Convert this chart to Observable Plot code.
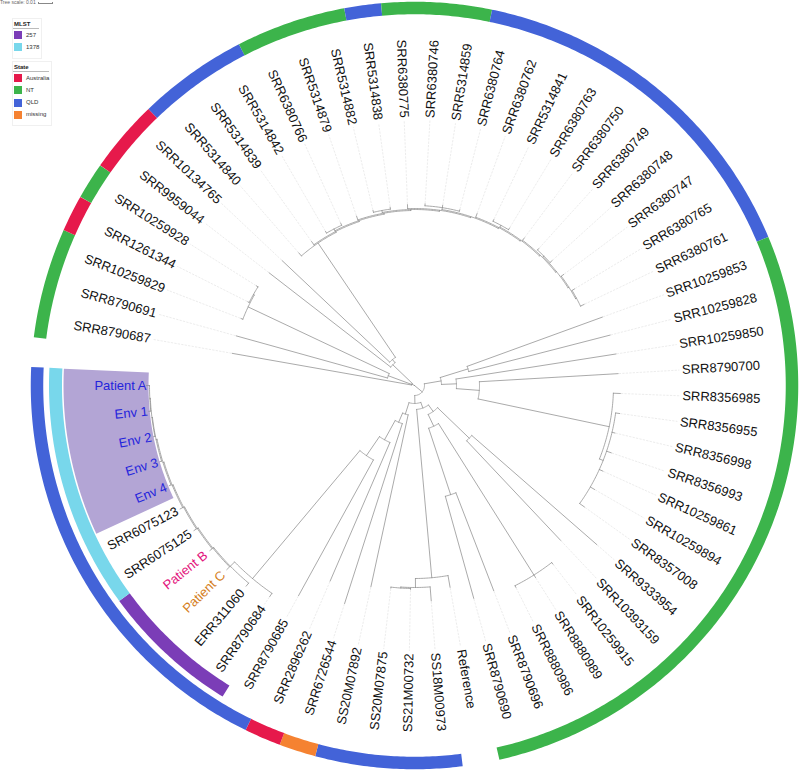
<!DOCTYPE html>
<html><head><meta charset="utf-8">
<script src="https://cdn.jsdelivr.net/npm/d3@7"></script>
<script src="https://cdn.jsdelivr.net/npm/@observablehq/plot@0.6"></script>
<style>
body{margin:0;background:#fff;font-family:"Liberation Sans",Arial,sans-serif;}
#wrap{position:relative;width:800px;height:770px;overflow:hidden;}
#chart svg{display:block;}
#legend{position:absolute;left:0;top:0;width:80px;height:130px;font-family:"Liberation Sans",Arial,sans-serif;color:#222;}
.lg{position:absolute;white-space:nowrap;}
</style></head>
<body><div id="wrap"><div id="chart"></div><div id="legend"></div></div>
<script>
// ---------------- DATA ----------------
// Tree; numbers after ':' are root-to-node distances in tree units
// (the 0.01 scale bar spans 15 units).
const topClade = "(SRR5314840:176,(SRR5314839:177,((SRR5314842:178,SRR6380766:178.5):176,(SRR5314879:179,((SRR5314882:180,SRR5314838:180):178,(SRR6380775:181,((SRR6380746:182,SRR5314859:182.5,SRR6380764:181.5):180,(SRR6380762:183,((SRR5314841:184,SRR6380763:184):182,(SRR6380750:184,((SRR6380749:185,SRR6380748:186):183,(SRR6380747:186,(SRR6380765:187,SRR6380761:188):184):183):182):181):180):179):178):177):176):175):174):173):172";
const upperLeftClade = "(SRR8790687:185,(SRR8790691:185,(SRR10259829:186,(SRR1261344:186.5,SRR10259928:187):185):184):28,(SRR9959044:184,(SRR10134765:182," + topClade + "):34):30):3";
const rightClade = "((SRR10259853:200,SRR10259828:202):56,(SRR10259850:204,(SRR8790700:204,(SRR8356985:206,(SRR8356955:207,SRR8356998:206,SRR8356993:208,SRR10259861:207,SRR10259894:208,SRR8357008:209):203):199):65):42):27";
const lowerRightClade = "(((SRR9333954:242,SRR10393159:213):76,((SRR10259915:226,SRR8880989:227,SRR8880986:226):224,(SRR8790696:220,SRR8790690:221):115):45):32,(Reference:205,(SS18M00973:216,(SS21M00732:204,SS20M07875:204):203):202):193):24";
const lowerLeftClade = "(SS20M07892:206,(SRR6726544:229,(SRR2896262:213,(SRR8790685:240,(SRR8790684:256,(ERR311060:262,(Patient C:263,(Patient B:263,(SRR6075125:264,(SRR6075123:265,(Env 4:265,(Env 3:266,(Env 2:266,(Env 1:267,Patient A:268):265):264.5):264):263):262):261):260):259):258):252):85):62):40):30";
const treeNewick = "(" + upperLeftClade + ",(" + rightClade + ",(" + lowerRightClade + "," + lowerLeftClade + "):18):10):0;";

const treeScaleLabel = "Tree scale: 0.01";
const treeScaleUnits = 15;

const stateNames = ["Australia", "NT", "QLD", "missing"];
const stateColors = ["#e6194b", "#3cb44b", "#4363d8", "#f58231"];
const stateAustralia = ["SRR1261344", "SRR9959044", "SRR10134765", "SRR2896262"];
const stateNT = ["SRR8790687", "SRR8790691", "SRR10259829", "SRR10259928", "SRR6380766", "SRR5314879", "SRR5314882", "SRR6380775", "SRR6380746", "SRR5314859",
  "SRR10259853", "SRR10259828", "SRR10259850", "SRR8790700", "SRR8356985", "SRR8356955", "SRR8356998", "SRR8356993", "SRR10259861", "SRR10259894",
  "SRR8357008", "SRR9333954", "SRR10393159", "SRR10259915", "SRR8880989", "SRR8880986", "SRR8790696", "SRR8790690"];
const stateQLD = ["SRR5314840", "SRR5314839", "SRR5314842", "SRR5314838", "SRR6380764", "SRR6380762", "SRR5314841", "SRR6380763", "SRR6380750", "SRR6380749",
  "SRR6380748", "SRR6380747", "SRR6380765", "SRR6380761", "SS18M00973", "SS21M00732", "SS20M07875", "SS20M07892", "SRR8790685", "SRR8790684",
  "ERR311060", "Patient C", "Patient B", "SRR6075125", "SRR6075123", "Env 4", "Env 3", "Env 2", "Env 1", "Patient A"];
const stateMissing = ["SRR6726544"];

const mlstNames = ["257", "1378"];
const mlstColors = ["#7b3db7", "#78d7eb"];
const mlst257 = ["SRR8790684", "ERR311060", "Patient C", "Patient B"];
const mlst1378 = ["SRR6075125", "SRR6075123", "Env 4", "Env 3", "Env 2", "Env 1", "Patient A"];

const highlightBlue = ["Patient A", "Env 1", "Env 2", "Env 3", "Env 4"];
const highlightPink = ["Patient B"];
const highlightOrange = ["Patient C"];
const shadedLeaves = ["Env 4", "Env 3", "Env 2", "Env 1", "Patient A"];

// ---------------- LAYOUT ----------------
const startAngle = 190, arcSpan = 350;
const labelR = 268, wedgeR0 = 266, wedgeR1 = 351, mlstR = 359, mlstW = 13, stateR = 377.5, stateW = 12.5;

function parseNewick(s) {
  let i = 0;
  function node() {
    const n = {children: []};
    if (s[i] === "(") {
      i++;
      n.children.push(node());
      while (s[i] === ",") { i++; n.children.push(node()); }
      i++;
    }
    let name = "";
    while (i < s.length && !",():;".includes(s[i])) name += s[i++];
    n.name = name.trim();
    if (s[i] === ":") {
      i++; let num = "";
      while (i < s.length && !",();".includes(s[i])) num += s[i++];
      n.depth = +num;
    }
    return n;
  }
  return node();
}
const root = parseNewick(treeNewick);
const leaves = [];
(function walk(n) { if (!n.children.length) leaves.push(n); else n.children.forEach(walk); })(root);
const step = arcSpan / (leaves.length - 1);
leaves.forEach((l, k) => l.angle = startAngle + k * step);
(function setAngle(n) {
  if (n.children.length) {
    n.children.forEach(setAngle);
    n.angle = (n.children[0].angle + n.children[n.children.length - 1].angle) / 2;
  }
})(root);

const rad = Math.PI / 180;
const polar = (r, a) => ({x: r * Math.cos(a * rad), y: r * Math.sin(a * rad)});
function arcPts(r, a0, a1, id, extra) {
  const n = Math.max(2, Math.ceil(Math.abs(a1 - a0) / 0.5) + 1);
  return d3.range(n).map(i => Object.assign({id}, polar(r, a0 + (a1 - a0) * i / (n - 1)), extra || {}));
}

// branches
const branchPts = [];
let bid = 0;
(function walkB(n, parent) {
  if (parent) {
    const id = "b" + (bid++);
    branchPts.push(Object.assign({id}, polar(parent.depth, n.angle)), Object.assign({id}, polar(n.depth, n.angle)));
  }
  if (n.children.length) {
    const c = n.children;
    branchPts.push(...arcPts(n.depth, c[0].angle, c[c.length - 1].angle, "a" + (bid++)));
    c.forEach(ch => walkB(ch, n));
  }
})(root, null);

// leaders
const leaderPts = [];
leaves.forEach((l, k) => {
  if (labelR - 3 - (l.depth + 1) > 2) {
    leaderPts.push(Object.assign({id: "l" + k}, polar(l.depth + 1, l.angle)), Object.assign({id: "l" + k}, polar(labelR - 3, l.angle)));
  }
});

// rings
const stateLists = [stateAustralia, stateNT, stateQLD, stateMissing];
const stateColorOf = new Map();
stateLists.forEach((lst, i) => lst.forEach(nm => stateColorOf.set(nm, stateColors[i])));
const mlstColorOf = new Map();
[mlst257, mlst1378].forEach((lst, i) => lst.forEach(nm => mlstColorOf.set(nm, mlstColors[i])));

function ringRuns(colorOf, r, prefix) {
  const pts = [];
  let run = null, rid = 0;
  const flush = () => { if (run) pts.push(...arcPts(r, run.a0, run.a1, prefix + (rid++), {color: run.color})); run = null; };
  leaves.forEach(l => {
    const c = colorOf.get(l.name);
    if (!c) { flush(); return; }
    if (run && run.color === c) run.a1 = l.angle + step / 2;
    else { flush(); run = {color: c, a0: l.angle - step / 2, a1: l.angle + step / 2}; }
  });
  flush();
  return pts;
}
const statePts = ringRuns(stateColorOf, stateR, "s");
const mlstPts = ringRuns(mlstColorOf, mlstR, "m");

// shaded wedge
const shaded = leaves.filter(l => shadedLeaves.includes(l.name));
const wA0 = d3.min(shaded, l => l.angle) - step / 2, wA1 = d3.max(shaded, l => l.angle) + step / 2;
const wedgePts = arcPts((wedgeR0 + wedgeR1) / 2, wA0, wA1, "w");

// labels
function labelColor(nm) {
  if (highlightBlue.includes(nm)) return "#2424dc";
  if (highlightPink.includes(nm)) return "#e3167e";
  if (highlightOrange.includes(nm)) return "#d47e1c";
  return "#111111";
}
const labels = leaves.map(l => {
  const a = ((l.angle % 360) + 360) % 360;
  const right = a >= 270 || a < 90;
  return Object.assign({name: l.name, right, rot: right ? a : a - 180, color: labelColor(l.name)}, polar(labelR, l.angle));
});

const cx = 414, cy = 385, W = 800, H = 770;
const font = "Liberation Sans, Arial, sans-serif";
const chart = Plot.plot({
  width: W, height: H, margin: 0,
  x: {domain: [-cx, W - cx], range: [0, W], axis: null},
  y: {domain: [-cy, H - cy], range: [0, H], axis: null},
  color: {type: "identity"},
  marks: [
    Plot.line(wedgePts, {x: "x", y: "y", z: "id", stroke: "#b3a5d5", strokeWidth: wedgeR1 - wedgeR0, strokeLinecap: "butt", strokeLinejoin: "round"}),
    Plot.line(statePts, {x: "x", y: "y", z: "id", stroke: "color", strokeWidth: stateW, strokeLinecap: "butt"}),
    Plot.line(mlstPts, {x: "x", y: "y", z: "id", stroke: "color", strokeWidth: mlstW, strokeLinecap: "butt"}),
    Plot.line(leaderPts, {x: "x", y: "y", z: "id", stroke: "#e4e4e4", strokeWidth: 0.7, strokeDasharray: "1.5,2"}),
    Plot.line(branchPts, {x: "x", y: "y", z: "id", stroke: "#8e8e8e", strokeWidth: 0.75}),
    Plot.text(labels.filter(d => d.right), {x: "x", y: "y", text: "name", rotate: "rot", fill: "color", textAnchor: "start", fontSize: 13, fontFamily: font}),
    Plot.text(labels.filter(d => !d.right), {x: "x", y: "y", text: "name", rotate: "rot", fill: "color", textAnchor: "end", fontSize: 13, fontFamily: font})
  ]
});
document.getElementById("chart").appendChild(chart);

// ---------------- LEGEND (HTML overlay) ----------------
const lg = document.getElementById("legend");
function el(css, html) { const d = document.createElement("div"); d.className = "lg"; d.style.cssText = css; if (html != null) d.innerHTML = html; lg.appendChild(d); return d; }
el("left:0;top:-1px;font-size:5px;color:#666;", treeScaleLabel);
el(`left:38px;top:2px;width:${treeScaleUnits}px;height:2px;border-left:1px solid #888;border-right:1px solid #888;box-sizing:border-box;`);
el(`left:38px;top:3px;width:${treeScaleUnits}px;height:0;border-top:1px solid #888;`);
function block(title, names, colors, top, boxW) {
  el(`left:12px;top:${top}px;width:${boxW}px;height:${16 + names.length * 12.3}px;border:1px solid #f0f0f0;box-sizing:border-box;`);
  el(`left:14px;top:${top + 3}px;font-size:6px;font-weight:bold;`, title);
  el(`left:13px;top:${top + 10}px;width:${boxW - 4}px;height:0;border-top:1px solid #bbb;`);
  names.forEach((nm, i) => {
    const y = top + 13 + i * 12.3;
    el(`left:14px;top:${y}px;width:8px;height:8px;background:${colors[i]};`);
    el(`left:26px;top:${y + 0.5}px;font-size:6px;color:#333;`, nm);
  });
}
block("MLST", mlstNames, mlstColors, 18, 30);
block("State", stateNames, stateColors, 61, 40);
</script></body></html>
